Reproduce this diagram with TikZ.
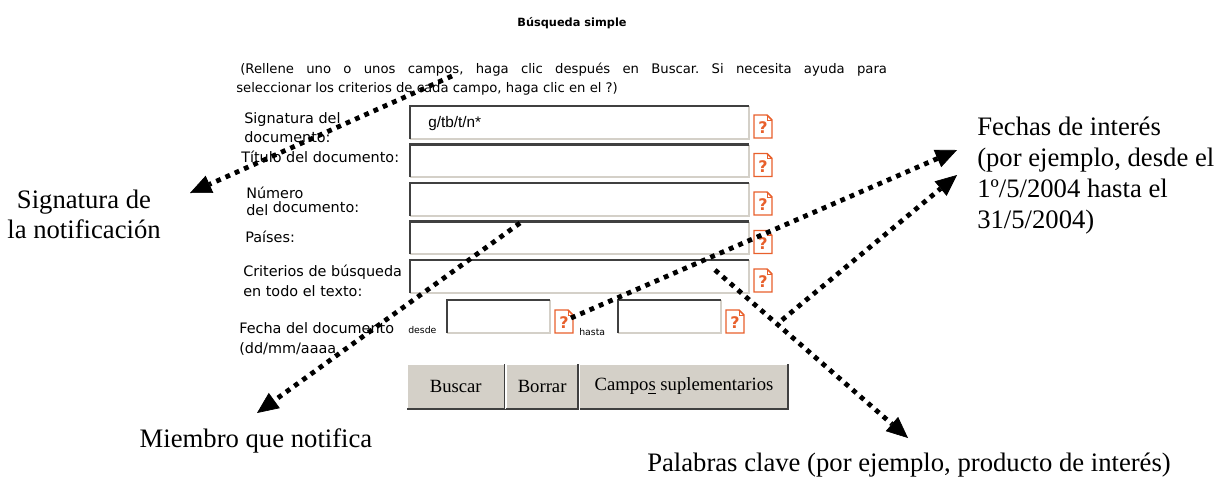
\documentclass[tikz,border=0pt]{standalone}
\usepackage{fontspec}
\setmainfont{Liberation Serif}
\newfontfamily\uifont{DejaVu Sans}
\newfontfamily\inputfont{Liberation Sans}
\usetikzlibrary{arrows.meta,positioning}
\definecolor{helpcol}{HTML}{E8602C}
\definecolor{darkrim}{HTML}{404040}
\definecolor{literim}{HTML}{D4D0C8}
\definecolor{btnface}{HTML}{D4D0C8}
\tikzset{
     fieldcap/.style={font=\uifont\fontsize{10.8}{14}\selectfont, inner sep=0pt, align=left},
     field/.style={anchor=north west, inner sep=0pt, minimum width=253.5pt, minimum height=24pt, fill=white},
     datefield/.style={field, minimum width=77pt, minimum height=24.5pt},
     button/.style={anchor=north west, inner sep=0pt, fill=btnface, minimum height=33pt, font=\fontsize{14}{16}\selectfont},
     note text/.style={font=\fontsize{20}{23.25}\selectfont, inner sep=0pt},
     dotarrow/.style={black, line width=3.6pt, dash pattern=on 3.6pt off 4pt,
        -{Triangle[length=16pt,width=14pt,line width=0.5pt]}},
     pics/helpdoc/.style={code={
        \draw[helpcol, line width=1.1pt, fill=white] (0,0) -- (13,0) -- (18,5) -- (18,23) -- (0,23) -- cycle;
        \draw[helpcol, line width=0.7pt] (13,0) |- (18,5);
        \node[text=helpcol, font=\uifont\bfseries\fontsize{12}{12}\selectfont, inner sep=0pt] at (9,13) {?};
     }},
    }

\begin{document}
\begin{tikzpicture}[x=0.75pt,y=-0.75pt]
    \useasboundingbox (0,0) rectangle (1216,480);

    % heading and hint
    \node[font=\uifont\bfseries\fontsize{8.5}{10}\selectfont, anchor=base] (title) at (572,26) {Búsqueda simple};
    \node[fieldcap, font=\uifont\fontsize{9.9}{14.25}\selectfont\frenchspacing, anchor=north west] (hint) at (236,63)
        {\hspace*{3pt}\makebox[485pt][s]{(Rellene uno o unos campos, haga clic después en Buscar. Si necesita ayuda para}\\
         seleccionar los criterios de cada campo, haga clic en el ?)};

    % captions
    \node[fieldcap, anchor=north west, font=\uifont\fontsize{10.8}{14.25}\selectfont] (capsig) at (244,112) {Signatura del\\documento:};
    \node[fieldcap, anchor=base west] (captit) at (241,162) {Título del documento:};
    \node[fieldcap, anchor=north west, font=\uifont\fontsize{10.8}{12.75}\selectfont] (capnum) at (246,187) {Número\\del \raisebox{2.25pt}{documento:}};
    \node[fieldcap, anchor=base west] (cappais) at (245,242) {Países:};
    \node[fieldcap, anchor=north west, font=\uifont\fontsize{10.8}{15}\selectfont] (capcrit) at (243,265) {Criterios de búsqueda\\en todo el texto:};
    \node[fieldcap, anchor=north west, font=\uifont\fontsize{10.8}{15}\selectfont] (capfecha) at (239,322) {Fecha del documento\\(dd/mm/aaaa};
    \node[fieldcap, anchor=base west, font=\uifont\fontsize{7}{8}\selectfont] (desde) at (408,333) {desde};
    \node[fieldcap, anchor=base west, font=\uifont\fontsize{7}{8}\selectfont] (hasta) at (579,335) {hasta};

    % input boxes
    \node[field] (sigbox) at (410,106) {};
    \node[field] (titbox) at (410,144.5) {};
    \node[field] (numbox) at (410,183) {};
    \node[field] (paisbox) at (410,221.5) {};
    \node[field] (critbox) at (410,260) {};
    \node[datefield] (desdebox) at (447,300) {};
    \node[datefield] (hastabox) at (618,300) {};
    \foreach \f in {sigbox,titbox,numbox,paisbox,critbox,desdebox,hastabox} {
        \draw[literim, line width=1.5pt] (\f.north east) |- (\f.south west);
        \draw[darkrim, line width=2pt] (\f.south west) |- (\f.north east);
    }
    \node[font=\inputfont\fontsize{11.5}{12}\selectfont, anchor=base west, inner sep=0pt] (query) at (428,127) {g/tb/t/n*};

    % help icons
    \foreach \y in {115,153.5,192,230.5,269}
        \pic at (754,\y) {helpdoc};
    \pic at (555,310) {helpdoc};
    \pic at (726,310) {helpdoc};

    % buttons
    \node[button, minimum width=72.75pt] (buscar) at (407,364) {Buscar};
    \node[button, minimum width=54pt, right=1pt of buscar] (borrar) {Borrar};
    \node[button, minimum width=156pt, right=1pt of borrar] (campos) {Campo\underline{s} suplementarios};
    \foreach \b in {buscar,borrar,campos} {
        \draw[white, line width=1pt] (\b.south west) |- (\b.north east);
        \draw[darkrim, line width=1.5pt] (\b.south west) -| (\b.north east);
    }

    % notes
    \node[note text, anchor=north, align=center, font=\fontsize{20}{22.5}\selectfont] (signota) at (84,190) {Signatura de\\la notificación};
    \node[note text, anchor=base] (miembro) at (256,447) {Miembro que notifica};
    \node[note text, anchor=base] (palabras) at (909,471) {Palabras clave (por ejemplo, producto de interés)};
    \node[note text, anchor=north west, align=left] (fechas) at (977,117) {Fechas de interés\\(por ejemplo, desde el\\1º/5/2004 hasta el\\31/5/2004)};

    % pointers
    \coordinate (sigfrom) at (452,76);
    \coordinate (sigto) at (190,193);
    \coordinate (numfrom) at (520,223);
    \coordinate (numto) at (257,413);
    \coordinate (desdefrom) at (571,318);
    \coordinate (fechato) at (957,150);
    \coordinate (hastafrom) at (782,320);
    \coordinate (fechatoo) at (957,175);
    \coordinate (critfrom) at (715,270);
    \coordinate (palabrasto) at (908,438);

    \path[dotarrow]
    (sigfrom) edge (sigto)
    (numfrom) edge (numto)
    (desdefrom) edge (fechato)
    (hastafrom) edge (fechatoo)
    (critfrom) edge (palabrasto);
\end{tikzpicture}
\end{document}
